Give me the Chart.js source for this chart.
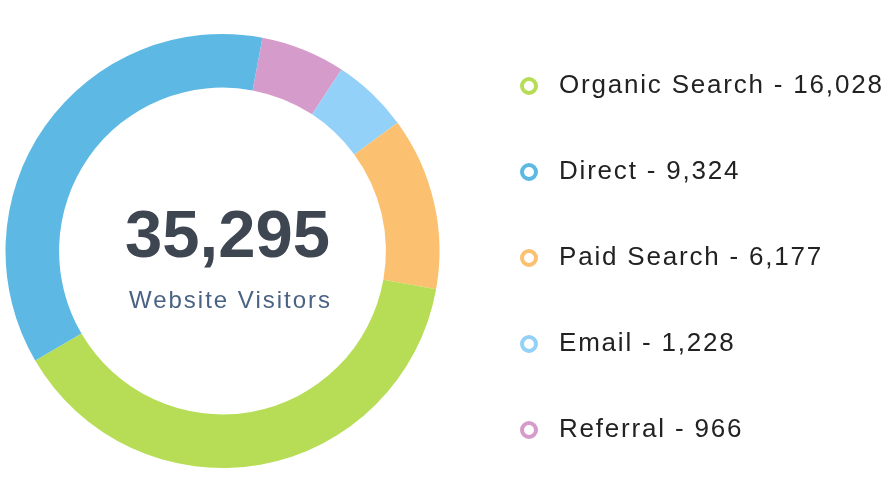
<!DOCTYPE html>
<html>
<head>
<meta charset="utf-8">
<script src="https://cdn.jsdelivr.net/npm/chart.js@4.4.1/dist/chart.umd.min.js"></script>
<style>
  html, body { margin: 0; padding: 0; background: #ffffff; overflow: hidden; width: 893px; height: 478px; }
  #wrap { position: absolute; left: -10px; top: -10px; width: 904px; height: 520px; }
</style>
</head>
<body>
<div id="wrap"><canvas id="c"></canvas></div>
<script>
// ---- data (legend order) ----
const categories = ['Organic Search', 'Direct', 'Paid Search', 'Email', 'Referral'];
const visitors = [16028, 9324, 6177, 1228, 966];          // values printed in the legend
const ringShare = [38.8, 36.4, 12.9, 5.7, 6.3];           // share of the ring (%) as drawn
const colors = ['#b6dd55', '#5db9e4', '#fbc170', '#93d1f8', '#d59bcb'];
const clockwiseOrder = [4, 3, 2, 0, 1];                   // slice order clockwise from the start angle
const totalVisitors = 35295;
const centerCaption = 'Website Visitors';
const startAngle = 10.6;

const FONT = '"Liberation Sans", Arial, Helvetica, sans-serif';

function ringImage(color) {
  const c = document.createElement('canvas');
  c.width = 20; c.height = 20;
  const g = c.getContext('2d');
  g.beginPath();
  g.arc(10, 10, 7, 0, Math.PI * 2);
  g.fillStyle = '#ffffff';
  g.fill();
  g.lineWidth = 4;
  g.strokeStyle = color;
  g.stroke();
  return c;
}
const ringIcons = colors.map(ringImage);

const textPlugin = {
  id: 'centerText',
  beforeLayout(chart) { chart.ctx.letterSpacing = '5px'; },
  beforeDraw(chart) { chart.ctx.letterSpacing = '1.8px'; },
  afterDraw(chart) {
    const arc = chart.getDatasetMeta(0).data[0];
    const cx = arc.x, cy = arc.y;
    const ctx = chart.ctx;
    ctx.save();
    ctx.textAlign = 'center';
    ctx.textBaseline = 'alphabetic';
    ctx.letterSpacing = '0px';
    ctx.fillStyle = '#3e4651';
    ctx.font = 'bold 67px ' + FONT;
    ctx.fillText(totalVisitors.toLocaleString('en-US'), cx + 5, cy + 6);
    ctx.letterSpacing = '2px';
    ctx.fillStyle = '#4a6284';
    ctx.font = '24px ' + FONT;
    ctx.fillText(centerCaption, cx + 8, cy + 57);
    ctx.restore();
  }
};

new Chart(document.getElementById('c'), {
  type: 'doughnut',
  data: {
    labels: clockwiseOrder.map(i => categories[i]),
    datasets: [{
      data: clockwiseOrder.map(i => ringShare[i]),
      backgroundColor: clockwiseOrder.map(i => colors[i]),
      borderWidth: 0,
      radius: 217,
      cutout: '75.3%'
    }]
  },
  options: {
    responsive: true,
    maintainAspectRatio: false,
    animation: false,
    events: [],
    rotation: startAngle,
    layout: { padding: { left: 3, right: 2, top: 6, bottom: 4 } },
    plugins: {
      tooltip: { enabled: false },
      legend: {
        position: 'right',
        align: 'center',
        maxWidth: 440,
        title: { display: true, text: '', padding: 0, font: { size: 10, lineHeight: 1.4 }, color: 'rgba(0,0,0,0)' },
        labels: {
          usePointStyle: true,
          pointStyleWidth: 34,
          boxHeight: 10,
          padding: 60,
          color: '#222222',
          font: { family: FONT, size: 26 },
          generateLabels: () => categories.map((name, i) => ({
            text: name + ' - ' + visitors[i].toLocaleString('en-US'),
            fillStyle: '#ffffff',
            strokeStyle: colors[i],
            lineWidth: 4,
            pointStyle: ringIcons[i],
            fontColor: '#222222',
            hidden: false,
            index: clockwiseOrder.indexOf(i),
            datasetIndex: 0
          }))
        }
      }
    }
  },
  plugins: [textPlugin]
});
</script>
</body>
</html>
